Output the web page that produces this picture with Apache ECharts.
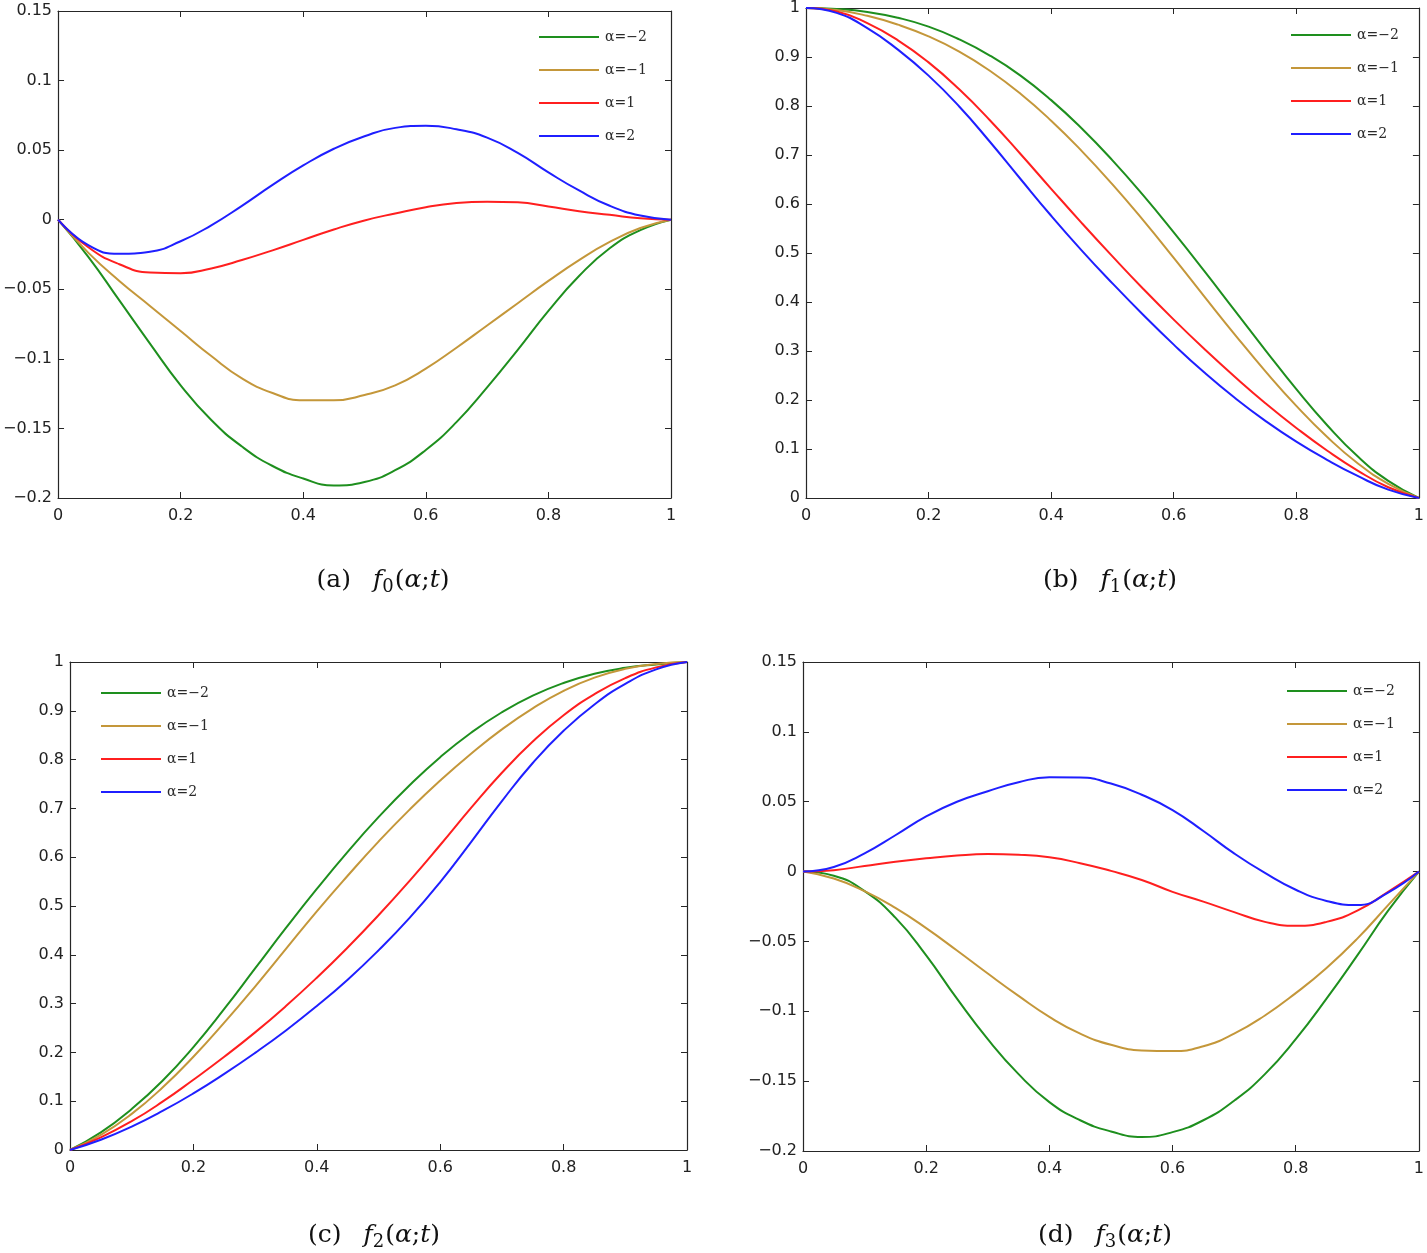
<!DOCTYPE html>
<html><head><meta charset="utf-8">
<script src="https://cdn.jsdelivr.net/npm/echarts@6/dist/echarts.min.js"></script>
<style>html,body{margin:0;padding:0;background:#fff}#c{width:1427px;height:1253px}</style>
</head><body><div id="c"></div>
<script>
// sample positions t
const T = [0,0.05,0.1,0.15,0.2,0.25,0.3,0.35,0.4,0.45,0.5,0.55,0.6,0.65,0.7,0.75,0.8,0.85,0.9,0.95,1];
const seriesNames = ['α=−2','α=−1','α=1','α=2'];
const xTicks = [0,0.2,0.4,0.6,0.8,1];

// (a) f0(α;t)
const f0_am2 = [0,-0.027,-0.058,-0.089,-0.119,-0.144,-0.163,-0.177,-0.186,-0.191,-0.1885,-0.180,-0.1655,-0.1455,-0.1205,-0.0935,-0.0655,-0.0405,-0.0205,-0.0075,0];
const f0_am1 = [0,-0.024,-0.044,-0.062,-0.080,-0.098,-0.114,-0.1245,-0.1298,-0.1298,-0.126,-0.119,-0.107,-0.092,-0.076,-0.060,-0.044,-0.029,-0.016,-0.006,0];
const f0_ap1 = [0,-0.020,-0.032,-0.038,-0.0385,-0.035,-0.029,-0.022,-0.0145,-0.007,-0.0005,0.0045,0.009,0.012,0.013,0.0125,0.0095,0.006,0.0035,0.001,0];
const f0_ap2 = [0,-0.0185,-0.0245,-0.023,-0.0155,-0.004,0.010,0.025,0.039,0.051,0.060,0.066,0.0675,0.065,0.059,0.048,0.034,0.021,0.010,0.003,0];

// (b) f1(α;t)
const f1_am2 = [1,0.998,0.992,0.980,0.962,0.936,0.903,0.862,0.812,0.754,0.689,0.618,0.542,0.463,0.382,0.301,0.222,0.149,0.085,0.035,0];
const f1_am1 = [1,0.996,0.984,0.966,0.942,0.911,0.872,0.825,0.770,0.708,0.640,0.567,0.490,0.411,0.333,0.258,0.188,0.125,0.071,0.029,0];
const f1_ap1 = [1,0.993,0.969,0.934,0.889,0.834,0.771,0.702,0.631,0.561,0.493,0.427,0.364,0.304,0.247,0.193,0.143,0.097,0.056,0.022,0];
const f1_ap2 = [1,0.990,0.959,0.915,0.862,0.799,0.727,0.651,0.576,0.505,0.438,0.374,0.313,0.256,0.204,0.157,0.115,0.078,0.045,0.017,0];

// (c) f2(α;t)
const f2_am2 = [0,0.036,0.084,0.142,0.211,0.289,0.372,0.455,0.535,0.611,0.682,0.747,0.805,0.855,0.897,0.931,0.957,0.976,0.988,0.995,1];
const f2_am1 = [0,0.031,0.074,0.128,0.191,0.261,0.335,0.412,0.489,0.562,0.632,0.697,0.757,0.812,0.862,0.905,0.941,0.968,0.986,0.996,1];
const f2_ap1 = [0,0.026,0.059,0.099,0.144,0.191,0.241,0.295,0.353,0.415,0.481,0.551,0.625,0.701,0.773,0.837,0.891,0.934,0.967,0.989,1];
const f2_ap2 = [0,0.021,0.048,0.080,0.116,0.156,0.199,0.245,0.295,0.349,0.409,0.475,0.549,0.631,0.715,0.793,0.859,0.913,0.955,0.985,1];

// (d) f3(α;t)
const f3_am2 = [0,-0.003,-0.014,-0.033,-0.060,-0.091,-0.120,-0.145,-0.165,-0.178,-0.186,-0.190,-0.1865,-0.178,-0.164,-0.145,-0.120,-0.091,-0.060,-0.028,0];
const f3_am1 = [0,-0.005,-0.014,-0.026,-0.0405,-0.0565,-0.073,-0.089,-0.104,-0.116,-0.124,-0.128,-0.1285,-0.125,-0.116,-0.103,-0.087,-0.069,-0.048,-0.024,0];
const f3_ap1 = [0,0.001,0.004,0.007,0.0095,0.0115,0.0125,0.012,0.0102,0.006,0.0005,-0.006,-0.0145,-0.0215,-0.029,-0.036,-0.0388,-0.036,-0.028,-0.0145,0];
const f3_ap2 = [0,0.0033,0.013,0.026,0.0395,0.050,0.0575,0.064,0.0675,0.0673,0.063,0.055,0.044,0.029,0.013,-0.001,-0.013,-0.021,-0.024,-0.015,0];

const captions = [
  {tag:'(a)', sub:'0'}, {tag:'(b)', sub:'1'}, {tag:'(c)', sub:'2'}, {tag:'(d)', sub:'3'}
];

const panels = [
  {data:[f0_am2,f0_am1,f0_ap1,f0_ap2], ymin:-0.2, ymax:0.15, yint:0.05},
  {data:[f1_am2,f1_am1,f1_ap1,f1_ap2], ymin:0, ymax:1, yint:0.1},
  {data:[f2_am2,f2_am1,f2_ap1,f2_ap2], ymin:0, ymax:1, yint:0.1},
  {data:[f3_am2,f3_am1,f3_ap1,f3_ap2], ymin:-0.2, ymax:0.15, yint:0.05}
];

// layout (style only)
const grids = [
  {left:54, top:11, width:617, height:487},
  {left:806, top:8, width:617, height:490},
  {left:70, top:662, width:617, height:488},
  {left:803, top:662, width:616, height:489}
];
const legendPos = [
  {left:539, top:29}, {left:1291, top:27}, {left:101, top:685}, {left:1287, top:683}
];
const captionPos = [
  {x:383, y:580}, {x:1110, y:580}, {x:374, y:1235}, {x:1105, y:1235}
];
const colors = ['#1e8f1e','#c4973a','#ff1f1f','#1f1fff'];
const axisColor = '#262626';

function fmt(v){ return String(+(+v).toFixed(2)).replace('-', '\u2212'); }

const xAxes = [], yAxes = [], series = [], legends = [], graphics = [];
panels.forEach((p, i) => {
  const common = {
    type:'value', gridIndex:i,
    axisLine:{show:true, onZero:false, lineStyle:{color:axisColor, width:1.2}},
    axisTick:{show:true, inside:true, length:6, lineStyle:{color:axisColor, width:1}},
    splitLine:{show:false}
  };
  xAxes.push(Object.assign({}, common, {position:'bottom', min:0, max:1, interval:0.2,
    axisLabel:{show:true, margin:10, fontFamily:'DejaVu Sans', fontSize:16, color:'#222', formatter:fmt}}));
  xAxes.push(Object.assign({}, common, {position:'top', min:0, max:1, interval:0.2,
    axisLabel:{show:false}}));
  yAxes.push(Object.assign({}, common, {position:'left', min:p.ymin, max:p.ymax, interval:p.yint,
    axisLabel:{show:true, margin:6, fontFamily:'DejaVu Sans', fontSize:16, color:'#222', formatter:fmt}}));
  yAxes.push(Object.assign({}, common, {position:'right', min:p.ymin, max:p.ymax, interval:p.yint,
    axisLabel:{show:false}}));
  p.data.forEach((vals, k) => {
    series.push({
      type:'line', name:seriesNames[k], xAxisIndex:2*i, yAxisIndex:2*i,
      data:T.map((t, j) => [t, vals[j]]),
      smooth:0.5, symbol:'none', showSymbol:false,
      lineStyle:{color:colors[k], width:2},
      itemStyle:{color:colors[k]}
    });
  });
  legends.push({
    orient:'vertical', left:legendPos[i].left, top:legendPos[i].top, padding:0,
    icon:'rect', itemWidth:60, itemHeight:2, itemGap:17, data:seriesNames, selectedMode:false,
    textStyle:{fontFamily:'DejaVu Serif', fontSize:14, color:'#2a2a2a', lineHeight:16, padding:[0,0,0,1]}
  });
  const c = captions[i];
  graphics.push({
    type:'text', x:captionPos[i].x, y:captionPos[i].y,
    style:{
      text:'{g|' + c.tag + '}{i|f}{s|' + c.sub + '}{n|(}{i|α}{n|;}{i|t}{n|)}',
      align:'center', verticalAlign:'middle', textAlign:'center', textVerticalAlign:'middle',
      fill:'#111',
      rich:{
        g:{fontFamily:'DejaVu Serif', fontSize:25, fill:'#111', padding:[0,22,0,0]},
        n:{fontFamily:'DejaVu Serif', fontSize:25, fill:'#111'},
        i:{fontFamily:'DejaVu Serif', fontSize:25, fontStyle:'italic', fill:'#111'},
        s:{fontFamily:'DejaVu Serif', fontSize:18, fill:'#111', padding:[14,1,0,0]}
      }
    }
  });
});

const chart = echarts.init(document.getElementById('c'), null, {renderer:'canvas'});
chart.setOption({
  backgroundColor:'#fff',
  animation:false,
  grid:grids.map(g => Object.assign({containLabel:false}, g)),
  xAxis:xAxes, yAxis:yAxes, series:series, legend:legends, graphic:graphics
});
</script></body></html>
